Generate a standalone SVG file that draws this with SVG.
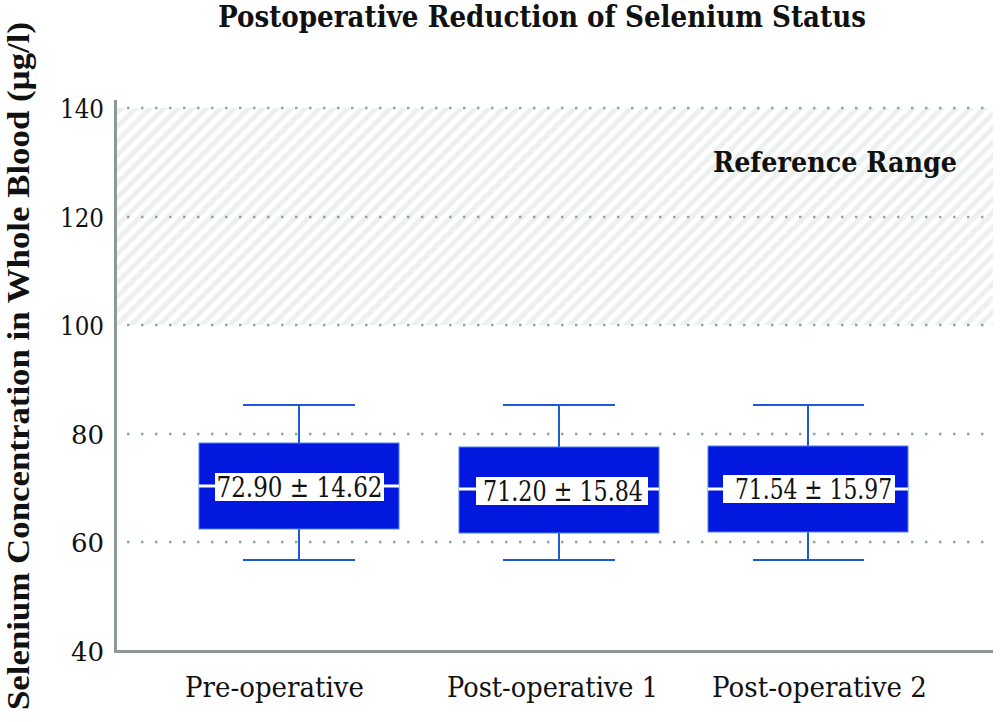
<svg xmlns="http://www.w3.org/2000/svg" width="1000" height="722" viewBox="0 0 1000 722">
<defs>
<pattern id="hatch" patternUnits="userSpaceOnUse" width="10" height="10" patternTransform="rotate(45)">
<rect x="0" y="0" width="10" height="10" fill="#ffffff"/>
<rect x="0" y="0" width="5" height="10" fill="#ecf1ef"/>
</pattern>
<style>
.grid{stroke:#94a3a3;stroke-width:2.5;stroke-dasharray:2.5 11.5;fill:none}
.axis{stroke:#8c9999;stroke-width:3;fill:none}
.tick{font-family:"DejaVu Serif","Liberation Serif",serif;font-size:26px;fill:#111;text-anchor:end}
.xl{font-family:"DejaVu Serif","Liberation Serif",serif;font-size:28px;fill:#111}
.bold{font-family:"DejaVu Serif","Liberation Serif",serif;font-weight:bold;fill:#111}
.ylab{font-family:"Liberation Serif","DejaVu Serif",serif;font-weight:bold;fill:#111;font-size:31px}
.box{fill:#0318de;stroke:#4a86e8;stroke-width:1}
.wh{stroke:#1d5ad8;stroke-width:2;fill:none}
.med{stroke:#ffffff;stroke-width:3}
.lbg{fill:#ffffff}
.lt{font-family:"DejaVu Serif","Liberation Serif",serif;font-size:28px;fill:#111}
</style>
</defs>
<rect width="1000" height="722" fill="#ffffff"/>
<text class="bold" x="542" y="27" font-size="29" text-anchor="middle" textLength="648" lengthAdjust="spacingAndGlyphs">Postoperative Reduction of Selenium Status</text>
<text class="ylab" transform="translate(29,366) rotate(-90)" text-anchor="middle" textLength="688" lengthAdjust="spacingAndGlyphs">Selenium Concentration in Whole Blood (µg/l)</text>
<g id="plot">
<rect x="117" y="108" width="876" height="217" fill="url(#hatch)"/>
<text class="bold" x="835" y="172" font-size="28" text-anchor="middle" textLength="244" lengthAdjust="spacingAndGlyphs">Reference Range</text>
<line class="grid" x1="127" y1="108" x2="995" y2="108"/>
<line class="grid" x1="127" y1="217" x2="995" y2="217"/>
<line class="grid" x1="127" y1="325" x2="995" y2="325"/>
<line class="grid" x1="127" y1="434" x2="995" y2="434"/>
<line class="grid" x1="127" y1="542" x2="995" y2="542"/>
<line class="axis" x1="115.5" y1="100" x2="115.5" y2="652"/>
<line class="axis" x1="114" y1="651.5" x2="993" y2="651.5"/>
<text class="tick" x="104" y="118" textLength="44" lengthAdjust="spacingAndGlyphs">140</text>
<text class="tick" x="104" y="227" textLength="44" lengthAdjust="spacingAndGlyphs">120</text>
<text class="tick" x="104" y="335" textLength="44" lengthAdjust="spacingAndGlyphs">100</text>
<text class="tick" x="104" y="444">80</text>
<text class="tick" x="104" y="552">60</text>
<text class="tick" x="104" y="661">40</text>
<text class="xl" x="185" y="697" textLength="179" lengthAdjust="spacingAndGlyphs">Pre-operative</text>
<text class="xl" x="447" y="697" textLength="211" lengthAdjust="spacingAndGlyphs">Post-operative 1</text>
<text class="xl" x="712" y="697" textLength="215" lengthAdjust="spacingAndGlyphs">Post-operative 2</text>
</g>
<g id="box1">
<line class="wh" x1="299" y1="405" x2="299" y2="443"/>
<line class="wh" x1="299" y1="529" x2="299" y2="560"/>
<line class="wh" x1="243" y1="405" x2="355" y2="405"/>
<line class="wh" x1="243" y1="560" x2="355" y2="560"/>
<rect class="box" x="199" y="443" width="200" height="86"/>
<line class="med" x1="199" y1="486" x2="399" y2="486"/>
<rect class="lbg" x="215" y="473" width="169" height="28"/>
<text class="lt" x="299.5" y="497" text-anchor="middle" textLength="166" lengthAdjust="spacingAndGlyphs">72.90 ± 14.62</text>
</g>
<g id="box2">
<line class="wh" x1="559" y1="405" x2="559" y2="447"/>
<line class="wh" x1="559" y1="533" x2="559" y2="560"/>
<line class="wh" x1="503" y1="405" x2="615" y2="405"/>
<line class="wh" x1="503" y1="560" x2="615" y2="560"/>
<rect class="box" x="459" y="447" width="200" height="86"/>
<line class="med" x1="459" y1="489" x2="659" y2="489"/>
<rect class="lbg" x="476" y="477" width="172" height="28"/>
<text class="lt" x="563" y="501" text-anchor="middle" textLength="160" lengthAdjust="spacingAndGlyphs">71.20 ± 15.84</text>
</g>
<g id="box3">
<line class="wh" x1="808" y1="405" x2="808" y2="446"/>
<line class="wh" x1="808" y1="532" x2="808" y2="560"/>
<line class="wh" x1="753" y1="405" x2="864" y2="405"/>
<line class="wh" x1="753" y1="560" x2="864" y2="560"/>
<rect class="box" x="708" y="446" width="200" height="86"/>
<line class="med" x1="708" y1="489" x2="908" y2="489"/>
<rect class="lbg" x="723" y="475" width="172" height="28"/>
<text class="lt" x="813.5" y="499" text-anchor="middle" textLength="157" lengthAdjust="spacingAndGlyphs">71.54 ± 15.97</text>
</g>
</svg>
